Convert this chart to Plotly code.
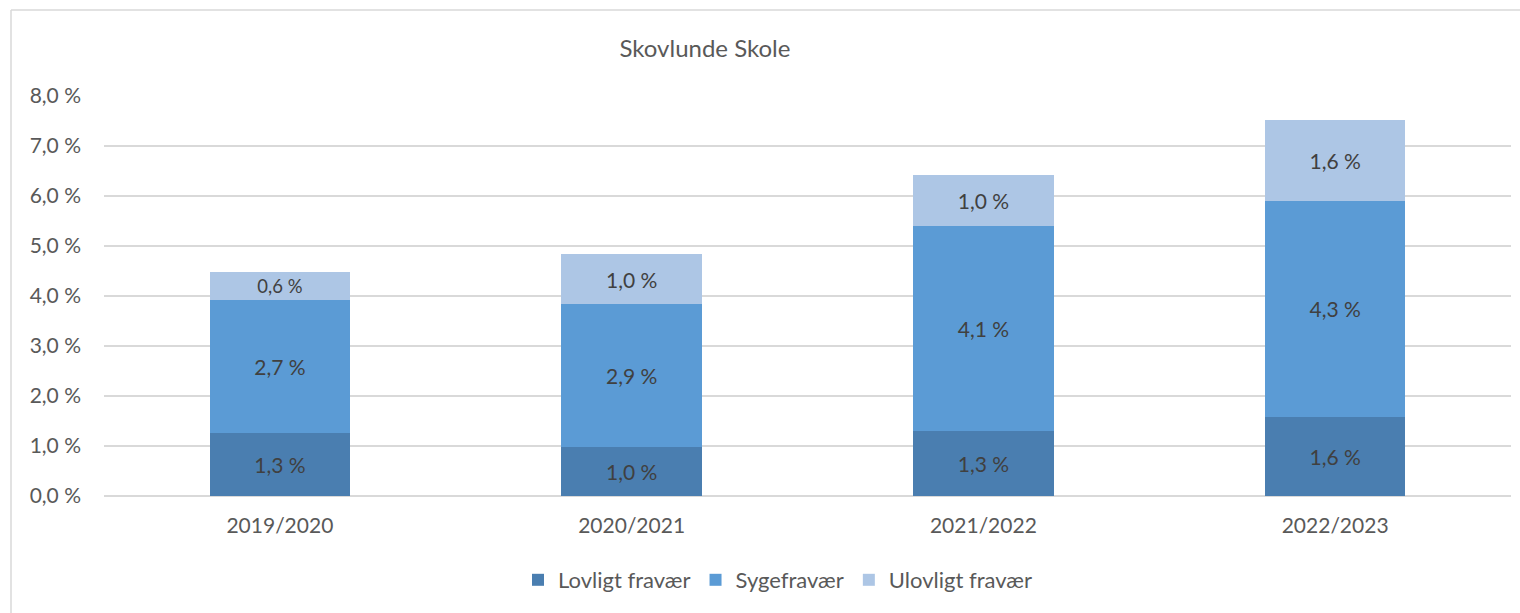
import plotly.graph_objects as go

categories = ["2019/2020", "2020/2021", "2021/2022", "2022/2023"]
series_names = ["Lovligt fravær", "Sygefravær", "Ulovligt fravær"]
lovligt = [1.26, 0.98, 1.31, 1.59]
syge = [2.67, 2.86, 4.10, 4.32]
ulovligt = [0.56, 1.00, 1.02, 1.62]
colors = ["#4A7EB0", "#5B9BD5", "#ADC6E5"]

W, H = 1520, 613
L, R, T, B = 104, 9, 96, 117
FONT = "Lato"


def fmt(v):
    return f"{v:.1f}".replace(".", ",") + " %"


fig = go.Figure()
for name, vals, col in zip(series_names, [lovligt, syge, ulovligt], colors):
    fig.add_trace(go.Bar(
        x=categories, y=vals, name=name,
        marker=dict(color=col, line=dict(width=0)),
        text=[fmt(v) for v in vals], textposition="inside",
        insidetextanchor="middle", textangle=0,
        textfont=dict(family=FONT, size=21, color="#404040"),
        cliponaxis=False,
    ))

pw = W - L - R
ph = H - T - B

fig.update_layout(
    width=W, height=H,
    margin=dict(l=L, r=R, t=T, b=B, autoexpand=False),
    barmode="stack", bargap=0.6,
    paper_bgcolor="white", plot_bgcolor="white",
    separators=", ",
    uniformtext=dict(mode=False),
    title=dict(text="Skovlunde Skole", x=705 / W, xanchor="center",
               y=1 - 49 / H, yanchor="middle",
               font=dict(family=FONT, size=24, color="#595959")),
    xaxis=dict(showgrid=False, showline=False, ticks="",
               ticklabelstandoff=15,
               tickfont=dict(family=FONT, size=21, color="#595959")),
    yaxis=dict(range=[0, 8], dtick=1, tickformat=".1f", ticksuffix=" %",
               showgrid=True, gridcolor="#D9D9D9", gridwidth=1.5,
               zeroline=True, zerolinecolor="#D9D9D9", zerolinewidth=1.5,
               showline=False, ticks="", ticklabelstandoff=22,
               tickfont=dict(family=FONT, size=21, color="#595959")),
    showlegend=True,
    legend=dict(orientation="h", x=(778 - L) / pw, xanchor="center",
                y=-(580 - (T + ph)) / ph, yanchor="middle",
                font=dict(family=FONT, size=22, color="#595959"),
                itemwidth=30, traceorder="normal"),
    shapes=[
        dict(type="line", xref="paper", yref="paper",
             x0=(11 - L) / pw, x1=(W - L) / pw,
             y0=1 + (T - 10) / ph, y1=1 + (T - 10) / ph,
             line=dict(color="#D9D9D9", width=1.5)),
        dict(type="line", xref="paper", yref="paper",
             x0=(11 - L) / pw, x1=(11 - L) / pw,
             y0=1 + (T - 10) / ph, y1=-(H - T - ph) / ph,
             line=dict(color="#D9D9D9", width=1.5)),
    ],
)

fig.write_html("out.html",
               config={"displayModeBar": False},
               post_script="document.body.style.margin='0';document.body.style.padding='0';")
